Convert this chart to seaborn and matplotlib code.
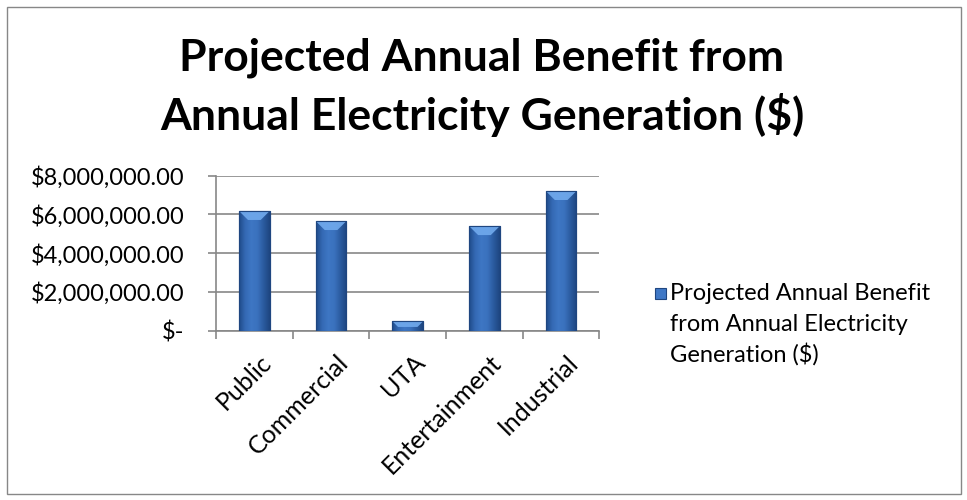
import numpy as np
import pandas as pd
import matplotlib
matplotlib.use("Agg")
import matplotlib.pyplot as plt
import matplotlib.patches as mpatches
import matplotlib.transforms as mtrans
from matplotlib.colors import LinearSegmentedColormap
from matplotlib.ticker import FuncFormatter
import seaborn as sns

# Data
categories = ["Public", "Commercial", "UTA", "Entertainment", "Industrial"]
benefit = [6180000, 5660000, 485000, 5400000, 7210000]
series_lines = ["Projected Annual Benefit", "from Annual Electricity", "Generation ($)"]
title_lines = ["Projected Annual Benefit from", "Annual Electricity Generation ($)"]
y_ticks = [0, 2000000, 4000000, 6000000, 8000000]

sns.set_theme(style="white")
plt.rcParams["font.family"] = ["Lato", "DejaVu Sans"]

W, H = 967, 500
df = pd.DataFrame({"category": categories, "benefit": benefit})

fig = plt.figure(figsize=(W / 100, H / 100), dpi=100)
ax = fig.add_axes([216 / W, 1 - 330.7 / H, 383.5 / W, 155 / H])

base_color = "#3a70bc"
edge_color = "#1f4680"
sns.barplot(data=df, x="category", y="benefit", ax=ax, color=base_color,
            width=0.40, saturation=1, edgecolor=edge_color, linewidth=0.8, zorder=3)

ax.set_xlim(-0.5, len(categories) - 0.5)
ax.set_ylim(0, 8000000)

# Bevelled shading inside each bar
shade = LinearSegmentedColormap.from_list(
    "bevel", ["#1f4a88", "#3469b4", "#3e77c4", "#3a71bd", "#2a5a9e", "#1d4580"])
grad = np.linspace(0, 1, 256).reshape(1, -1)
px_y = 8000000 / 155.0      # data units per pixel (vertical)
px_x = 1 / 76.7             # category units per pixel (horizontal)
for p in list(ax.patches):
    x0, y0 = p.get_x(), p.get_y()
    w, h = p.get_width(), p.get_height()
    im = ax.imshow(grad, cmap=shade, aspect="auto", extent=[x0, x0 + w, y0, y0 + h],
                   zorder=3.5, interpolation="bicubic")
    im.set_clip_path(p)
    depth = min(9 * px_y, h * 0.6)
    inset = min(9 * px_x, depth / px_y * px_x)
    top = mpatches.Polygon([[x0, y0 + h], [x0 + w, y0 + h], [x0 + w - inset, y0 + h - depth],
                            [x0 + inset, y0 + h - depth]], closed=True,
                           facecolor="#70a9ec", edgecolor="none", alpha=0.92, zorder=4)
    ax.add_patch(top)
    ax.add_patch(mpatches.Rectangle((x0, y0), w, h, facecolor="none",
                                    edgecolor=edge_color, linewidth=0.8, zorder=4.5))

ax.set_yticks(y_ticks)


def money(v, pos):
    if v == 0:
        return "$-"
    return "${:,.2f}".format(v)


ax.yaxis.set_major_formatter(FuncFormatter(money))
ax.yaxis.grid(True, color="#878787", linewidth=1.2, zorder=0)
ax.set_axisbelow(True)

for side in ["top", "right"]:
    ax.spines[side].set_visible(False)
for side in ["left", "bottom"]:
    ax.spines[side].set_color("#878787")
    ax.spines[side].set_linewidth(1.2)

ax.set_xlabel("")
ax.set_ylabel("")
ax.tick_params(axis="y", which="major", length=5.8, width=1.2, color="#878787", labelsize=17,
               pad=17, labelcolor="black", left=True)
ax.set_xticks(np.arange(-0.5, len(categories), 1.0), minor=True)
ax.tick_params(axis="x", which="minor", length=5.8, width=1.2, color="#878787", bottom=True)
ax.set_xticks(range(len(categories)))
ax.set_xticklabels(categories, rotation=45, ha="right", rotation_mode="anchor")
ax.tick_params(axis="x", which="major", length=0, labelsize=18, labelcolor="black", pad=14)
for lbl in ax.get_xticklabels():
    lbl.set_transform(lbl.get_transform() + mtrans.ScaledTranslation(0.05, 0, fig.dpi_scale_trans))

# Title, two centred lines
for line, base in zip(title_lines, [70, 130]):
    fig.text(0.4985, 1 - base / H, line, ha="center", va="baseline",
             fontsize=32, fontweight="bold", color="black")

# Legend entry
key = mpatches.Rectangle((655 / W, 1 - 299 / H), 11 / W, 11 / H,
                         transform=fig.transFigure, facecolor="#3f78c6",
                         edgecolor=edge_color, linewidth=0.8)
fig.patches.append(key)
for line, base in zip(series_lines, [300, 331, 362]):
    fig.text(670 / W, 1 - base / H, line, ha="left", va="baseline", fontsize=17,
             color="black")

# Chart border
fig.patches.append(mpatches.Rectangle((6.5 / W, 6.5 / H), (W - 13) / W, (H - 13) / H,
                                      transform=fig.transFigure, facecolor="none",
                                      edgecolor="#878787", linewidth=1.0))

fig.savefig("out.png", dpi=100)
